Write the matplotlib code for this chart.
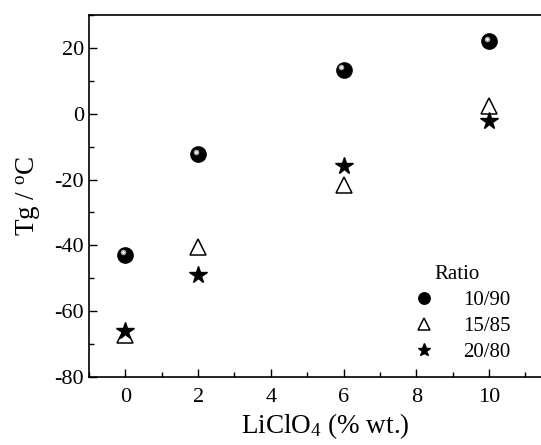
import numpy as np
import matplotlib
matplotlib.use('Agg')
import matplotlib.pyplot as plt
import matplotlib.transforms as mtransforms
from matplotlib.ticker import MultipleLocator

plt.rcParams['font.family'] = ['Liberation Serif', 'DejaVu Serif']
plt.rcParams['mathtext.fontset'] = 'stix'
plt.rcParams['axes.unicode_minus'] = False

# data
licl = [0, 2, 6, 10]
tg_10_90 = [-42.8, -12.2, 13.4, 22.0]
tg_15_85 = [-67.2, -40.5, -21.6, 2.2]
tg_20_80 = [-65.9, -49.1, -15.9, -2.2]
labels = ['10/90', '15/85', '20/80']

fig = plt.figure(figsize=(5.41, 4.45), dpi=100)
ax = fig.add_axes([0.1645, 0.1528, 0.874, 0.8135])

# shaded balls: black disk + soft highlight
ax.plot(licl, tg_10_90, 'o', color='black', markersize=11, label=labels[0], zorder=3)
hl = mtransforms.offset_copy(ax.transData, fig=fig, x=-1.6, y=1.6, units='points')
ax.plot(licl, tg_10_90, 'o', color='#cfcfcf', markersize=4, alpha=0.8,
        markeredgewidth=0, transform=hl, zorder=4)
ax.plot(licl, tg_10_90, 'o', color='white', markersize=1.8,
        markeredgewidth=0, transform=hl, zorder=5)

ax.plot(licl, tg_15_85, '^', markerfacecolor='none', markeredgecolor='black',
        markeredgewidth=1.1, markersize=11, label=labels[1], zorder=3)
ax.plot(licl, tg_20_80, '*', color='black', markersize=13, label=labels[2], zorder=3)

ax.set_xlim(-1, 12)
ax.set_ylim(-80, 30)
ax.xaxis.set_minor_locator(MultipleLocator(1))
ax.yaxis.set_minor_locator(MultipleLocator(10))
ax.set_xticks([0, 2, 4, 6, 8, 10])
ax.set_yticks([-80, -60, -40, -20, 0, 20])
ax.tick_params(which='both', direction='in', top=False, right=False, labelsize=16)
ax.tick_params(which='major', length=6, width=1)
ax.tick_params(which='minor', length=3.5, width=1)
ax.tick_params(axis='x', pad=8)
for s in ax.spines.values():
    s.set_linewidth(1.2)

ax.set_xlabel('LiClO$\\mathregular{_4}$ (% wt.)', fontsize=19.5, labelpad=3)
ax.set_ylabel('Tg / $\\mathregular{^o}$C', fontsize=19.5, labelpad=8)

leg = ax.legend(title='Ratio', frameon=False, fontsize=15, title_fontsize=15,
                loc='lower right', bbox_to_anchor=(0.932, -0.01),
                handletextpad=0.9, labelspacing=0.3, markerscale=0.75)

fig.savefig('out.png', dpi=100)
